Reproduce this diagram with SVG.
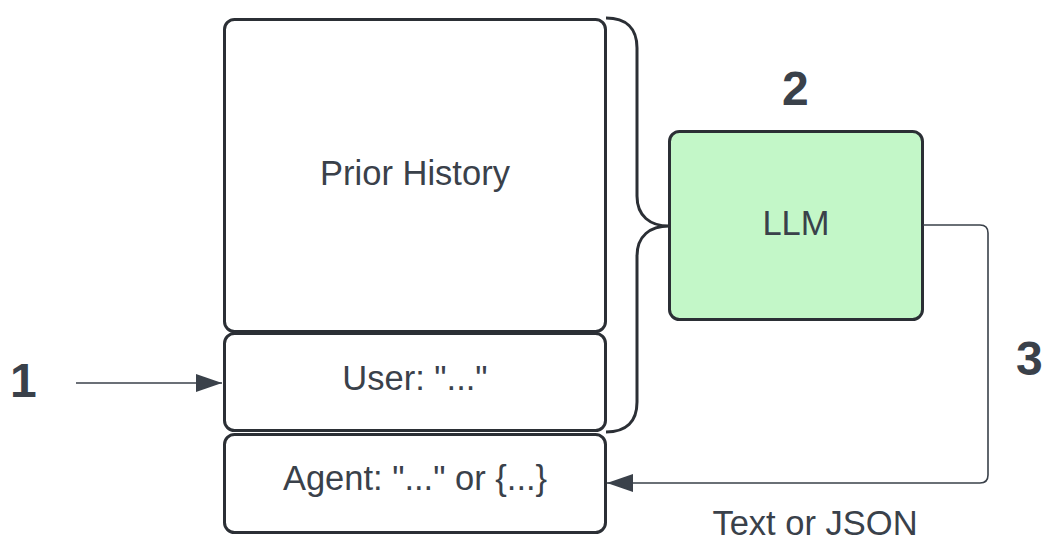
<svg xmlns="http://www.w3.org/2000/svg" width="1045" height="540" viewBox="0 0 1045 540">
<style>
.box{fill:#ffffff;stroke:#2b2f35;stroke-width:3}
.llm{fill:#c3f7c8;stroke:#2b2f35;stroke-width:3}
.lbl{font-family:"Liberation Sans",Arial,sans-serif;font-size:34.5px;fill:#3a414a;text-anchor:middle}
.num{font-family:"Liberation Sans",Arial,sans-serif;font-size:48px;font-weight:bold;fill:#3a414a}
.conn{fill:none;stroke:#3a414a;stroke-width:1.6}
.brace{fill:none;stroke:#2b2f35;stroke-width:3}
</style>
<defs>
<marker id="arr" viewBox="0 0 26 18" refX="26" refY="9" markerWidth="26" markerHeight="18" markerUnits="userSpaceOnUse" orient="auto">
<path d="M0,0 L26,9 L0,18 Z" fill="#3a414a"/>
</marker>
</defs>
<rect width="1045" height="540" fill="#ffffff"/>
<g id="prior-history">
<rect class="box" x="224.5" y="19.5" width="381" height="312" rx="10"/>
<text class="lbl" x="415" y="185">Prior History</text>
</g>
<g id="user">
<rect class="box" x="224.5" y="333.5" width="381" height="97" rx="10"/>
<text class="lbl" x="415" y="390">User: "..."</text>
</g>
<g id="agent">
<rect class="box" x="224.5" y="434.5" width="381" height="98" rx="10"/>
<text class="lbl" x="415" y="490">Agent: "..." or {...}</text>
</g>
<g id="llm">
<rect class="llm" x="669.5" y="131.5" width="253" height="188" rx="10"/>
<text class="lbl" x="796" y="235">LLM</text>
</g>
<g id="labels">
<text class="num" x="10" y="397">1</text>
<text class="num" x="782" y="105">2</text>
<text class="num" x="1016" y="375">3</text>
<text class="lbl" x="815" y="535">Text or JSON</text>
</g>
<g id="connectors">
<path class="brace" d="M606,18 C626,18 637,28 637,48 L637,196 C637,216 650,226 669,226 C650,226 637,236 637,256 L637,402 C637,422 626,432 606,432"/>
<path class="conn" d="M76,383 L222,383" marker-end="url(#arr)"/>
<path class="conn" d="M923,225 L980,225 Q988,225 988,233 L988,475 Q988,483 980,483 L607,483" marker-end="url(#arr)"/>
</g>
</svg>
